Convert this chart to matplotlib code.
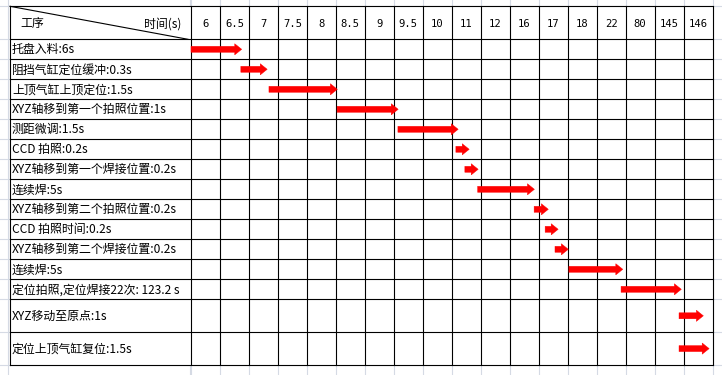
import matplotlib
matplotlib.use("Agg")
import matplotlib.pyplot as plt
from matplotlib.patches import Polygon

# Time columns of the schedule table
time_labels = ["6", "6.5", "7", "7.5", "8", "8.5", "9", "9.5", "10",
               "11", "12", "16", "17", "18", "22", "80", "145", "146"]

# Process steps (one row each)
steps = [
    "托盘入料:6s",
    "阻挡气缸定位缓冲:0.3s",
    "上顶气缸上顶定位:1.5s",
    "XYZ轴移到第一个拍照位置:1s",
    "测距微调:1.5s",
    "CCD 拍照:0.2s",
    "XYZ轴移到第一个焊接位置:0.2s",
    "连续焊:5s",
    "XYZ轴移到第二个拍照位置:0.2s",
    "CCD 拍照时间:0.2s",
    "XYZ轴移到第二个焊接位置:0.2s",
    "连续焊:5s",
    "定位拍照,定位焊接22次: 123.2 s",
    "XYZ移动至原点:1s",
    "定位上顶气缸复位:1.5s",
]

# Arrow extent of each step, in time-column units
arrow_start = [0.00, 1.72, 2.69, 5.04, 7.14, 9.14, 9.45, 9.89, 11.84,
               12.22, 12.56, 13.04, 14.84, 16.84, 16.84]
arrow_end = [1.75, 2.63, 5.05, 7.15, 9.22, 9.60, 9.91, 11.85, 12.33,
             12.67, 13.02, 14.90, 16.92, 17.68, 17.88]

W, H = 722, 375
fig = plt.figure(figsize=(W / 100, H / 100), dpi=100)
ax = fig.add_axes([0, 0, 1, 1])
ax.set_axis_off()

# Layout (pixels) -- x of the grid converted to column units
CW = 28.98          # width of one time column
X0 = 191.0          # left edge of first time column
def px(x):
    return (x - X0) / CW

ax.set_xlim(px(0), px(W))
ax.set_ylim(H, 0)

n_cols = len(time_labels)
table_left = px(10)
table_right = n_cols
top = 6.3
row_heights = [33.0] + [20.0] * 13 + [33.0, 32.6]
row_edges = [top]
for h in row_heights:
    row_edges.append(row_edges[-1] + h)
bottom = row_edges[-1]

grid_light = "#D5DAE4"
black = "#000000"

# Spreadsheet background gridlines
for y in row_edges:
    ax.plot([px(0), px(W)], [y, y], color=grid_light, lw=0.8, zorder=0)
for c in range(n_cols + 1):
    ax.plot([c, c], [0, H], color=grid_light, lw=0.8, zorder=0)
for x in (8, 190):
    ax.plot([px(x), px(x)], [0, H], color=grid_light, lw=0.8, zorder=0)

# White table body
ax.add_patch(plt.Rectangle((table_left, top), table_right - table_left,
                           bottom - top, facecolor="white", edgecolor="none",
                           zorder=1))

# Table lines
for y in row_edges:
    ax.plot([table_left, table_right], [y, y], color=black, lw=0.8, zorder=2)
for c in range(n_cols + 1):
    ax.plot([c, c], [top, bottom], color=black, lw=0.8, zorder=2)
ax.plot([table_left, table_left], [top, bottom], color=black, lw=0.8, zorder=2)

# Diagonal header split
ax.plot([table_left, px(188)], [top, row_edges[1]], color=black, lw=0.8,
        zorder=2)

cjk = ["Noto Sans CJK SC", "DejaVu Sans"]
fs = 8.6
hy = (row_edges[0] + row_edges[1]) / 2 + 1
ax.text(px(20), hy, "工序", fontsize=fs, family=cjk, va="center",
        ha="left", zorder=3)
ax.text(px(181), hy, "时间(s)", fontsize=fs, family=cjk, va="center",
        ha="right", zorder=3)

for i, lab in enumerate(time_labels):
    ax.text(i + 0.5, hy, lab, fontsize=7.6, family=["DejaVu Sans Mono"],
            ha="center", va="center", zorder=3)

# Step labels and arrows
shaft = 3.0
head = 5.6
head_len = 7.0 / CW
for i, lab in enumerate(steps):
    y0, y1 = row_edges[i + 1], row_edges[i + 2]
    yc = (y0 + y1) / 2
    ax.text(px(12), yc + 0.5, lab, fontsize=fs, family=cjk, ha="left",
            va="center", zorder=3)
    s, e = arrow_start[i], arrow_end[i]
    hs = e - head_len
    pts = [(s, yc - shaft), (hs, yc - shaft), (hs, yc - head), (e, yc),
           (hs, yc + head), (hs, yc + shaft), (s, yc + shaft)]
    ax.add_patch(Polygon(pts, closed=True, facecolor="#FF0000",
                         edgecolor="#FF0000", lw=0.3, zorder=4))

fig.savefig("out.png", dpi=100)
